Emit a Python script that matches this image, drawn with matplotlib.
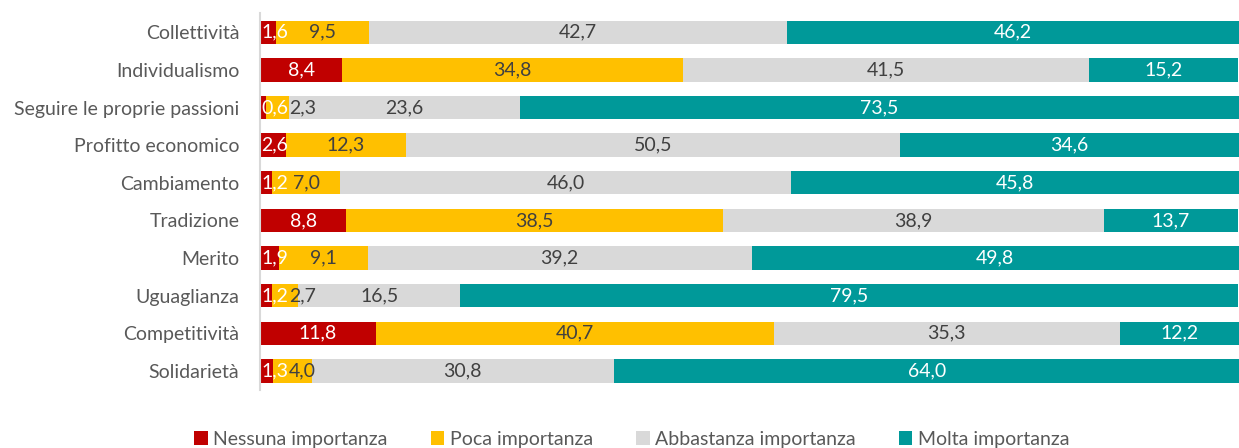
import matplotlib.pyplot as plt
import numpy as np

plt.rcParams['font.family'] = ['Lato', 'DejaVu Sans']

# dati
categorie = ['Collettività', 'Individualismo', 'Seguire le proprie passioni',
             'Profitto economico', 'Cambiamento', 'Tradizione', 'Merito',
             'Uguaglianza', 'Competitività', 'Solidarietà']
nessuna = [1.6, 8.4, 0.6, 2.6, 1.2, 8.8, 1.9, 1.2, 11.8, 1.3]
poca = [9.5, 34.8, 2.3, 12.3, 7.0, 38.5, 9.1, 2.7, 40.7, 4.0]
abbastanza = [42.7, 41.5, 23.6, 50.5, 46.0, 38.9, 39.2, 16.5, 35.3, 30.8]
molta = [46.2, 15.2, 73.5, 34.6, 45.8, 13.7, 49.8, 79.5, 12.2, 64.0]
serie = ['Nessuna importanza', 'Poca importanza', 'Abbastanza importanza', 'Molta importanza']

colori = ['#C00000', '#FFC000', '#D9D9D9', '#009999']
col_testo = ['white', '#404040', '#404040', 'white']

fig = plt.figure(figsize=(12.39, 4.48), dpi=100)
ax = fig.add_axes([0.21, 0.13, 0.79, 0.84])

y = np.arange(len(categorie))
left = np.zeros(len(categorie))
etichette = [[] for _ in categorie]
for vals, nome, c, tc in zip([nessuna, poca, abbastanza, molta], serie, colori, col_testo):
    vals = np.array(vals)
    ax.barh(y, vals, left=left, height=0.62, color=c, label=nome)
    for i, (xi, v) in enumerate(zip(left + vals / 2, vals)):
        t = ax.text(xi, i, f'{v:.1f}'.replace('.', ','), ha='center', va='center',
                    color=tc, fontsize=14)
        etichette[i].append(t)
    left += vals

ax.set_xlim(0, 100)
ax.set_ylim(len(categorie) - 0.5, -0.5)
ax.set_yticks(y)
ax.set_yticklabels(categorie, fontsize=14, color='#595959')
ax.tick_params(axis='y', length=0, pad=15)
ax.set_xticks([])
for s in ['top', 'right', 'bottom']:
    ax.spines[s].set_visible(False)
ax.spines['left'].set_color('#D9D9D9')
ax.spines['left'].set_linewidth(1.5)

# come Excel: sposta le etichette piccole per non sovrapporle
fig.canvas.draw()
r = fig.canvas.get_renderer()
inv = ax.transData.inverted()
x0_pix = ax.transData.transform((0, 0))[0]
for riga in etichette:
    limite = x0_pix + 1
    for t in riga:
        bb = t.get_window_extent(r)
        sx = max(bb.x0, limite)
        if sx != bb.x0:
            cx = sx + bb.width / 2
            t.set_x(inv.transform((cx, 0))[0])
        limite = sx + bb.width + 1

leg = fig.legend(loc='center', bbox_to_anchor=(0.51, 0.02), ncol=4, frameon=False,
                 fontsize=14, handlelength=0.7, handleheight=0.7, handletextpad=0.3,
                 columnspacing=2.2)
for t in leg.get_texts():
    t.set_color('#595959')

fig.savefig('out.png', dpi=100)
